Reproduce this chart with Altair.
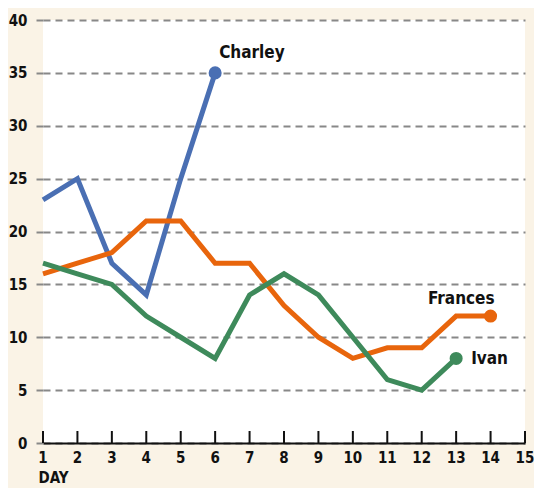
import altair as alt
import pandas as pd

days_charley = [1, 2, 3, 4, 5, 6]
charley = [23, 25, 17, 14, 25, 35]
days_frances = [1, 2, 3, 4, 5, 6, 7, 8, 9, 10, 11, 12, 13, 14]
frances = [16, 17, 18, 21, 21, 17, 17, 13, 10, 8, 9, 9, 12, 12]
days_ivan = [1, 2, 3, 4, 5, 6, 7, 8, 9, 10, 11, 12, 13]
ivan = [17, 16, 15, 12, 10, 8, 14, 16, 14, 10, 6, 5, 8]
tick_days = list(range(1, 16))
y_ticks = [0, 5, 10, 15, 20, 25, 30, 35, 40]

series = ["Charley", "Frances", "Ivan"]
colors = ["#4a6fb3", "#e8650c", "#3e8a5b"]

rows = []
for name, d, v in [("Charley", days_charley, charley),
                   ("Frances", days_frances, frances),
                   ("Ivan", days_ivan, ivan)]:
    for di, vi in zip(d, v):
        rows.append({"series": name, "day": di, "value": vi})
df = pd.DataFrame(rows)
ends = df.groupby("series").tail(1).reset_index(drop=True)
ticks_df = pd.DataFrame({"day": tick_days, "label": [str(d) for d in tick_days]})

FONT = "DejaVu Sans Condensed"
W, H = 482, 423

xscale = alt.Scale(domain=[1, 15], nice=False)
yscale = alt.Scale(domain=[0, 40], nice=False)
x = alt.X("day:Q", scale=xscale,
          axis=alt.Axis(values=tick_days, labels=False, title="DAY",
                        domainColor="#111", domainWidth=2, ticks=False,
                        titleFont=FONT, titleFontSize=15, titleFontWeight="bold",
                        titleColor="#111", titleAnchor="start", titleAlign="left",
                        titleBaseline="top", titleX=-5, titleY=27, grid=False))
y = alt.Y("value:Q", scale=yscale,
          axis=alt.Axis(values=y_ticks, title=None, domain=False,
                        tickSize=10, tickColor="#888", tickWidth=2, tickDash=[7, 5],
                        grid=True, gridColor="#888", gridWidth=2, gridDash=[7, 5],
                        labelPadding=6, labelFontSize=15, labelFont=FONT,
                        labelFontWeight="bold", labelColor="#111", labelOverlap=False))
color = alt.Color("series:N", scale=alt.Scale(domain=series, range=colors), legend=None)

lines = alt.Chart(df).mark_line(strokeWidth=5, strokeJoin="miter").encode(x=x, y=y, color=color)
dots = alt.Chart(ends).mark_circle(size=170, opacity=1).encode(x="day:Q", y="value:Q", color=color)

tick_rules = alt.Chart(ticks_df).mark_rule(color="#111", strokeWidth=2).encode(
    x="day:Q", y=alt.value(H - 12), y2=alt.value(H))
tick_labels = alt.Chart(ticks_df).mark_text(
    font=FONT, fontSize=15, fontWeight="bold", color="#111",
    align="center", baseline="top").encode(
    x="day:Q", y=alt.value(H + 8), text="label:N")

def label(name, dx, dy, align):
    return alt.Chart(ends).transform_filter(alt.datum.series == name).mark_text(
        font=FONT, fontSize=17, fontWeight="bold", color="#111",
        align=align, baseline="alphabetic", dx=dx, dy=dy).encode(
        x="day:Q", y="value:Q", text="series:N")

labels = label("Charley", 4, -15, "left") + label("Frances", 4, -12, "right") + label("Ivan", 15, 6, "left")

chart = alt.layer(lines, tick_rules, tick_labels, dots, labels).properties(
    width=W, height=H,
    autosize=alt.AutoSizeParams(type="none"),
    padding={"left": 35, "top": 12, "right": 9, "bottom": 45},
).configure(background="#faf3e6").configure_view(fill="white", stroke=None)

chart.save("out.html", embed_options={"renderer": "svg", "actions": False})
